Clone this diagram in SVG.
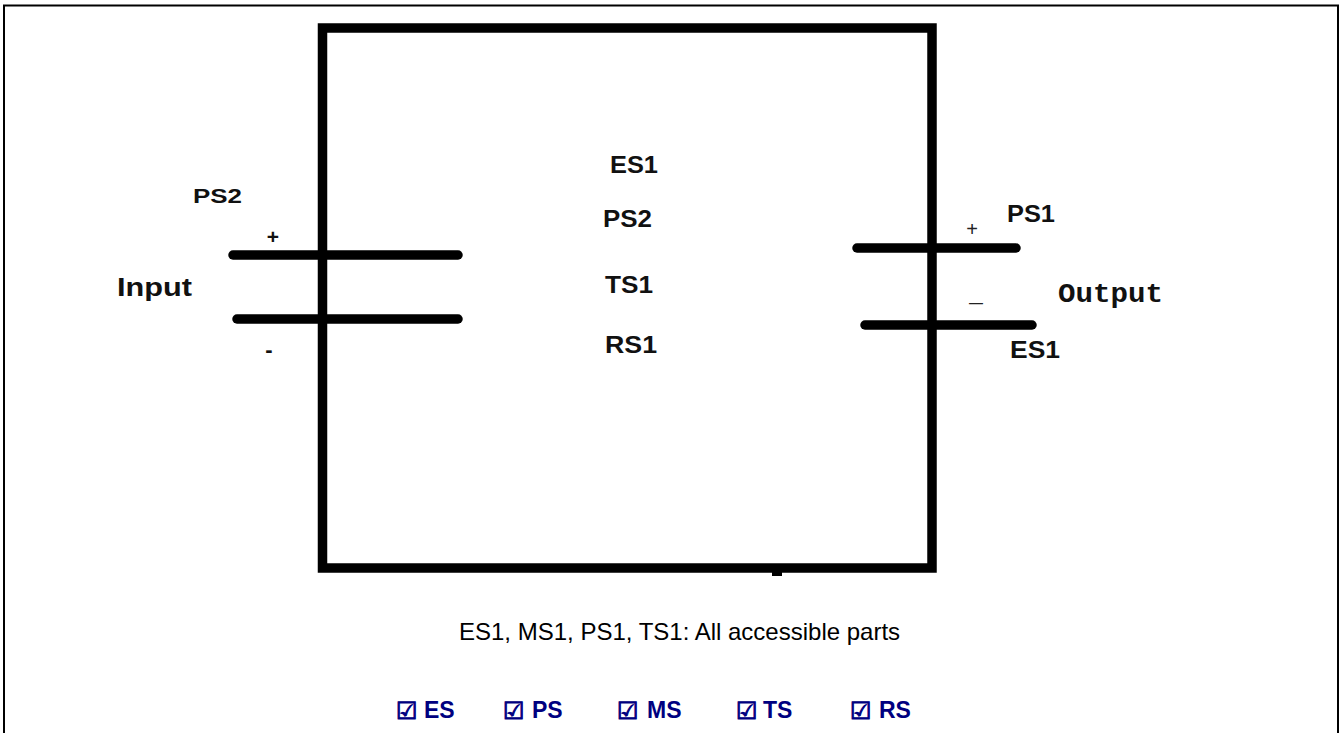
<svg xmlns="http://www.w3.org/2000/svg" width="1344" height="733" viewBox="0 0 1344 733">
  <style>
    .frame { fill: none; stroke: #000; stroke-width: 2; }
    .box { fill: none; stroke: #000; stroke-width: 9.5; stroke-linejoin: miter; }
    .lead { stroke: #000; stroke-width: 9.5; stroke-linecap: round; fill: none; }
    .lbl { font-family: "Liberation Sans", "Noto Sans", Arial, sans-serif; font-weight: bold; fill: #111; }
    .mono { font-family: "Liberation Mono", "DejaVu Sans Mono", monospace; font-weight: bold; fill: #111; }
    .note { font-family: "Liberation Sans", Arial, sans-serif; font-size: 24px; fill: #000; }
    .chk { font-family: "Liberation Sans", Arial, sans-serif; font-weight: bold; font-size: 23px; fill: #000080; }
    .sym { font-family: "DejaVu Sans", "Liberation Sans", sans-serif; font-weight: bold; font-size: 24px; fill: #000080; stroke: #000080; stroke-width: 1; }
  </style>
  <rect width="1344" height="733" fill="#fff"/>
  <path class="frame" d="M4,740 V5.5 H1338 V740"/>

  <g id="device">
    <rect class="box" x="322.5" y="28" width="609.5" height="540"/>
    <rect x="772" y="570" width="10" height="6" fill="#000"/>
  </g>

  <g id="connectors">
    <line class="lead" x1="233" y1="255" x2="458" y2="255"/>
    <line class="lead" x1="237" y1="319" x2="458" y2="319"/>
    <line class="lead" x1="857" y1="248" x2="1016" y2="248"/>
    <line class="lead" x1="865" y1="325" x2="1032" y2="325"/>
  </g>

  <g id="input">
    <text class="lbl" x="193" y="203" font-size="21" textLength="49" lengthAdjust="spacingAndGlyphs">PS2</text>
    <text class="lbl" x="273" y="244" font-size="21" text-anchor="middle">+</text>
    <text class="lbl" x="117" y="296" font-size="25" textLength="75" lengthAdjust="spacingAndGlyphs">Input</text>
    <text class="lbl" x="269" y="357" font-size="22" text-anchor="middle">-</text>
  </g>

  <g id="inside">
    <text class="lbl" x="610" y="173" font-size="24" textLength="48" lengthAdjust="spacingAndGlyphs">ES1</text>
    <text class="lbl" x="603" y="227" font-size="24" textLength="49" lengthAdjust="spacingAndGlyphs">PS2</text>
    <text class="lbl" x="605" y="293" font-size="24" textLength="48" lengthAdjust="spacingAndGlyphs">TS1</text>
    <text class="lbl" x="605" y="353" font-size="24" textLength="52" lengthAdjust="spacingAndGlyphs">RS1</text>
  </g>

  <g id="output">
    <text class="lbl" x="1007" y="222" font-size="24" textLength="48" lengthAdjust="spacingAndGlyphs">PS1</text>
    <text x="972" y="236" font-size="20" text-anchor="middle" font-family="Liberation Sans, sans-serif" fill="#222">+</text>
    <text class="mono" x="1058" y="302" font-size="28" textLength="105" lengthAdjust="spacingAndGlyphs">Output</text>
    <text x="969" y="309" font-size="20" textLength="14" lengthAdjust="spacingAndGlyphs" font-family="Liberation Sans, sans-serif" fill="#222">–</text>
    <text class="lbl" x="1010" y="358" font-size="24" textLength="50" lengthAdjust="spacingAndGlyphs">ES1</text>
  </g>

  <g id="note">
    <text class="note" x="459" y="640">ES1, MS1, PS1, TS1: All accessible parts</text>
  </g>

  <g id="legend">
    <text class="sym" x="396" y="719">☑</text><text class="chk" x="424" y="718">ES</text>
    <text class="sym" x="503" y="719">☑</text><text class="chk" x="532" y="718">PS</text>
    <text class="sym" x="617" y="719">☑</text><text class="chk" x="647" y="718">MS</text>
    <text class="sym" x="736" y="719">☑</text><text class="chk" x="763" y="718">TS</text>
    <text class="sym" x="850" y="719">☑</text><text class="chk" x="879" y="718">RS</text>
  </g>
</svg>
